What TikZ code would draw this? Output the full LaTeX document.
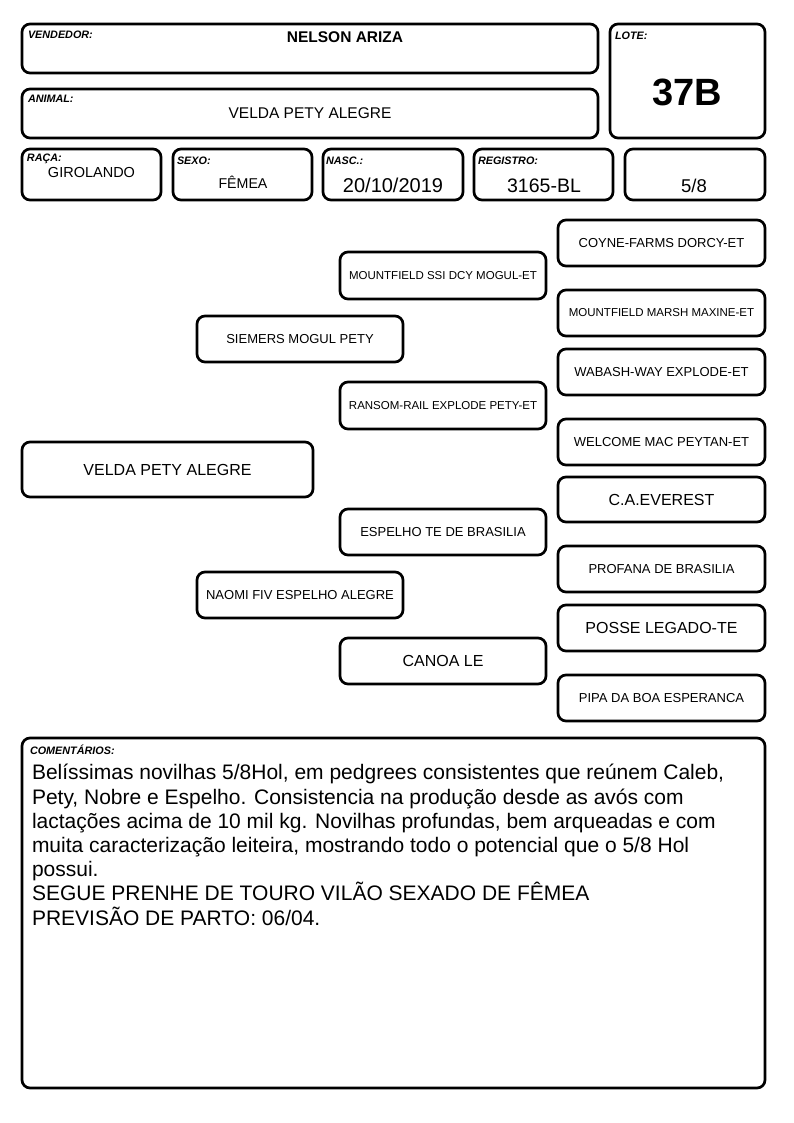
\documentclass[tikz,border=0pt]{standalone}
\usepackage{fontspec}
\setmainfont{Liberation Sans}
\usetikzlibrary{positioning}

\begin{document}
\begin{tikzpicture}[x=1pt, y=-1pt, inner sep=0pt, outer sep=0pt,
  campo/.style={draw, line width=2.7pt, rounded corners=8pt, anchor=north west},
  rotulo/.style={font=\fontsize{10.8}{12}\selectfont\bfseries\itshape},
  valor/.style={anchor=base},
  pedbox/.style={draw, line width=2.7pt, rounded corners=8pt, minimum width=206pt,
    minimum height=46pt, align=center, font=\fontsize{13}{15}\selectfont},
  pedmiudo/.style={pedbox, font=\fontsize{11.5}{13}\selectfont},
  pedgrande/.style={pedbox, font=\fontsize{16}{18}\selectfont}]
\useasboundingbox (0,0) rectangle (794,1123);

% cabecalho
\node[campo, minimum width=576pt, minimum height=49pt] (vendedor) at (22,24) {};
\node[campo, minimum width=576pt, minimum height=49pt] (animal) at (22,89) {};
\node[campo, minimum width=155pt, minimum height=114pt] (lote) at (610,24) {};
\node[campo, minimum width=139pt, minimum height=51pt] (raca) at (22,149) {};
\node[campo, minimum width=139pt, minimum height=51pt] (sexo) at (173,149) {};
\node[campo, minimum width=140pt, minimum height=51pt] (nasc) at (323,149) {};
\node[campo, minimum width=139pt, minimum height=51pt] (registro) at (474,149) {};
\node[campo, minimum width=140pt, minimum height=51pt] (fracao) at (625,149) {};

\node[rotulo, below right=7pt and 6pt of vendedor.north west] (rotVendedor) {VENDEDOR:};
\node[rotulo, below right=6pt and 6pt of animal.north west] (rotAnimal) {ANIMAL:};
\node[rotulo, below right=7.5pt and 5pt of lote.north west] (rotLote) {LOTE:};
\node[rotulo, below right=5pt and 5pt of raca.north west] (rotRaca) {RAÇA:};
\node[rotulo, below right=8pt and 4pt of sexo.north west] (rotSexo) {SEXO:};
\node[rotulo, below right=8pt and 3pt of nasc.north west] (rotNasc) {NASC.:};
\node[rotulo, below right=7.5pt and 4pt of registro.north west] (rotRegistro) {REGISTRO:};

\node[valor, font=\fontsize{15.5}{18}\selectfont\bfseries] (nomeVendedor) at (345,43) {NELSON ARIZA};
\node[valor, font=\fontsize{15.5}{18}\selectfont] (nomeAnimal) at (310,119) {VELDA PETY ALEGRE};
\node[valor, font=\fontsize{38}{40}\selectfont\bfseries] (numLote) at (687,105.5) {37B};
\node[valor, font=\fontsize{14.5}{17}\selectfont] (valRaca) at (91.5,178) {GIROLANDO};
\node[valor, font=\fontsize{14.2}{17}\selectfont] (valSexo) at (243,189) {FÊMEA};
\node[valor, font=\fontsize{20}{22}\selectfont] (valNasc) at (393,193) {20/10/2019};
\node[valor, font=\fontsize{19.5}{22}\selectfont] (valRegistro) at (544,193) {3165-BL};
\node[valor, font=\fontsize{18.5}{22}\selectfont] (valFracao) at (694,193) {5/8};

% genealogia
\node[pedgrande, minimum width=291pt, minimum height=55pt] (velda) at (167.5,469.5) {VELDA PETY ALEGRE};
\node[pedbox] (pai) at (300,339) {SIEMERS MOGUL PETY};
\node[pedbox] (mae) at (300,595) {NAOMI FIV ESPELHO ALEGRE};
\node[pedmiudo, minimum height=47pt] (avoPP) at (443,275.5) {MOUNTFIELD SSI DCY MOGUL-ET};
\node[pedmiudo, minimum height=47pt] (avoMP) at (443,405.5) {RANSOM-RAIL EXPLODE PETY-ET};
\node[pedbox] (avoPM) at (443,532) {ESPELHO TE DE BRASILIA};
\node[pedgrande] (avoMM) at (443,661) {CANOA LE};
\node[pedbox, minimum width=207pt] (bisA) at (661.5,243) {COYNE-FARMS DORCY-ET};
\node[pedmiudo, minimum width=207pt] (bisB) at (661.5,313) {MOUNTFIELD MARSH MAXINE-ET};
\node[pedbox, minimum width=207pt] (bisC) at (661.5,372) {WABASH-WAY EXPLODE-ET};
\node[pedbox, minimum width=207pt] (bisD) at (661.5,442) {WELCOME MAC PEYTAN-ET};
\node[pedgrande, minimum width=207pt, minimum height=45pt] (bisE) at (661.5,499.5) {C.A.EVEREST};
\node[pedbox, minimum width=207pt] (bisF) at (661.5,569) {PROFANA DE BRASILIA};
\node[pedgrande, minimum width=207pt] (bisG) at (661.5,628) {POSSE LEGADO-TE};
\node[pedbox, minimum width=207pt] (bisH) at (661.5,698) {PIPA DA BOA ESPERANCA};

% comentarios
\node[campo, minimum width=743pt, minimum height=350pt] (comentarios) at (22,738) {};
\node[rotulo, below right=7pt and 8pt of comentarios.north west] (rotComentarios) {COMENTÁRIOS:};
\node[anchor=north west, align=left, font=\fontsize{21}{24.2}\selectfont] (textoComentarios) at (32,764.5)
  {Belíssimas novilhas 5/8Hol, em pedgrees consistentes que reúnem Caleb,\\
   Pety, Nobre e Espelho. Consistencia na produção desde as avós com\\
   lactações acima de 10 mil kg. Novilhas profundas, bem arqueadas e com\\
   muita caracterização leiteira, mostrando todo o potencial que o 5/8 Hol\\
   possui.\\
   SEGUE PRENHE DE TOURO VILÃO SEXADO DE FÊMEA\\
   PREVISÃO DE PARTO: 06/04.};
\end{tikzpicture}
\end{document}
